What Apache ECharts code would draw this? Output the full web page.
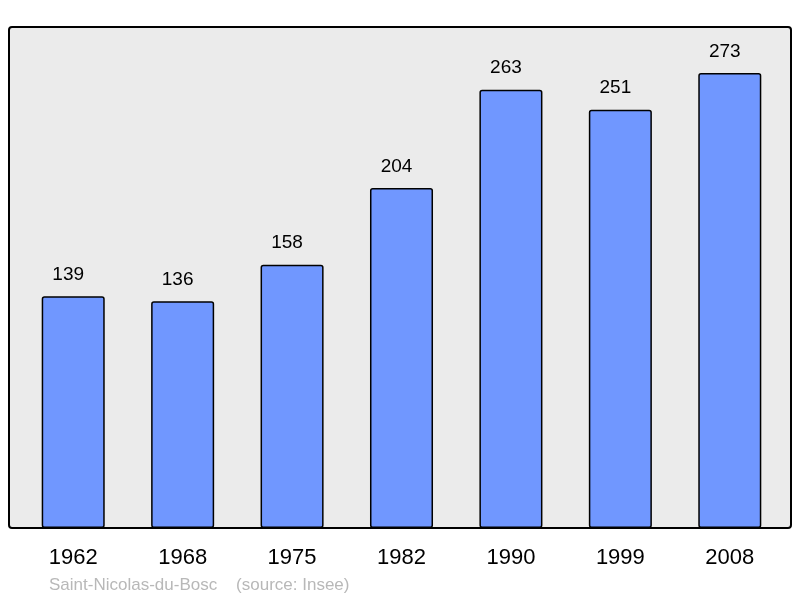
<!DOCTYPE html>
<html><head><meta charset="utf-8">
<script src="https://cdn.jsdelivr.net/npm/echarts@6/dist/echarts.min.js"></script>
<style>html,body{margin:0;padding:0;background:#fff}#c{width:800px;height:598px}</style>
</head><body><div id="c"></div>
<script>
var years = ['1962','1968','1975','1982','1990','1999','2008'];
var population = [139,136,158,204,263,251,273];
var footnote = 'Saint-Nicolas-du-Bosc    (source: Insee)';

var chart = echarts.init(document.getElementById('c'), null, {renderer:'canvas'});
chart.setOption({
  animation:false,
  backgroundColor:'#ffffff',
  graphic:[
    {type:'rect', z:-10, shape:{x:9,y:27,width:782,height:501,r:3},
     style:{fill:'#ebebeb', stroke:'#000', lineWidth:2}},
    {type:'text', left:49, top:577, style:{text:footnote, fill:'#b8b8b8', font:'17px "Liberation Sans", Arial, sans-serif'}}
  ],
  grid:{left:18.5, right:15.5, top:28, bottom:70, containLabel:false},
  xAxis:{type:'category', data:years,
    axisLine:{show:false}, axisTick:{show:false},
    axisLabel:{color:'#000', fontSize:22, fontFamily:'"Liberation Sans", Arial, sans-serif', margin:19}},
  yAxis:{type:'value', min:0, max:300, show:false, splitLine:{show:false}},
  series:[{type:'bar', data:population, barWidth:'57.6%',
    itemStyle:{color:'#7097ff', borderColor:'#000', borderWidth:1.5, borderRadius:2},
    label:{show:true, position:'top', distance:12, offset:[-5,0], color:'#000', fontSize:19,
      fontFamily:'"Liberation Sans", Arial, sans-serif'}}]
});
</script></body></html>
